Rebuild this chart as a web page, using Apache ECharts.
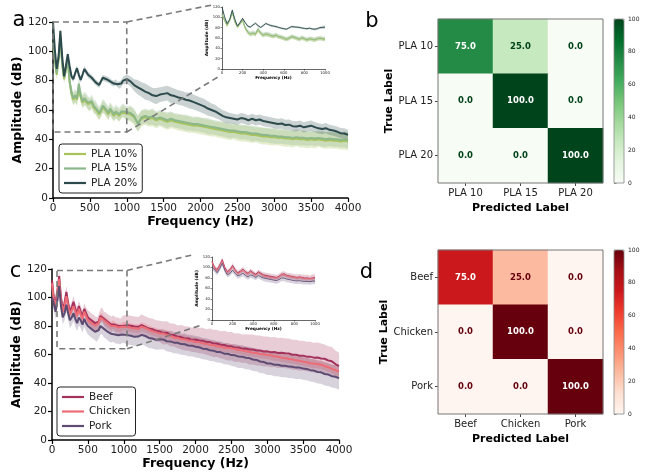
<!DOCTYPE html>
<html>
<head>
<meta charset="utf-8">
<script src="https://cdn.jsdelivr.net/npm/echarts@6/dist/echarts.min.js"></script>
<style>
html,body{margin:0;padding:0;background:#fff}
#main{width:647px;height:472px}
</style>
</head>
<body>
<div id="main"></div>
<script>
// frequency points (Hz): 25 Hz steps up to 1000, then 50 Hz steps
var freqs = [0,25,50,75,100,125,150,175,200,225,250,275,300,325,350,375,400,425,450,475,
  500,525,550,575,600,625,650,675,700,725,750,775,800,825,850,875,900,925,950,975,1000,
  1050,1100,1150,1200,1250,1300,1350,1400,1450,1500,1550,1600,1650,1700,1750,1800,1850,1900,1950,
  2000,2050,2100,2150,2200,2250,2300,2350,2400,2450,2500,2550,2600,2650,2700,2750,2800,2850,2900,2950,
  3000,3050,3100,3150,3200,3250,3300,3350,3400,3450,3500,3550,3600,3650,3700,3750,3800,3850,3900,3950,4000];
var nInset = 41; // points up to 1000 Hz

// panel a - PLA
var pla10 = [105,94,84,94,109,91,81,87,94,79,71,67,69,67,74,69,65,67,66,64,
  63,65,62,61,59,57,59,62,61,59,57,60,58,56,58,57,56,58,59,58,57,
  57,55,51,54,55,54,54.5,53,54,53,52,53,52,51.5,51,50.5,50,49.5,49.5,49,
  48.5,48,47.5,47,46.5,46,45.5,45,45,44.5,44,44,43.5,43,43,42.5,42,42,41.5,41.5,
  41,41,40.5,40.5,40,40.5,40,40,39.5,40,39.5,40,39.5,39,39.5,39,39,38.5,39,38.5];
var pla15 = [106,95,85,95,110,92,82,88,95,80,72,68,70,68,78,70,66,68,67,65,
  64,66,63,62,60,58,60,63,62,60,58,61,59,57,59,58,57,59,60,59,58,
  58,56,50.5,55,56,55,55.5,54,55,54,53,54,53,52.5,52,51.5,51,50.5,50.5,50,
  49.5,49,48.5,48,47.5,47,46.5,46,46,45.5,45,45,44.5,44,44,43.5,43,43,42.5,42.5,
  42,42,41.5,41.5,41,41.5,41,41,40.5,41,40.5,41,40.5,40,40.5,40,40,39.5,40,39.5];
var pla20 = [120,101,88,96,114,96,83,90,98,90,83,81,85,88.5,84,80.5,84,88,86,84,
  83,82,80.5,79,78,77,79.5,82,81.5,81,80.5,79.5,78.5,78,79,77.5,77,78,80,80.5,81,
  79.5,77,75.5,74,72.5,71.5,70,69.5,70.5,71,71.5,70,69.5,68.5,68,67,66.5,65.5,64.5,
  63.5,62.5,61,60,59,57.5,56,55,54.5,54,53.5,54.5,54,53,54,53,53.5,52.5,52,51.5,
  51,50.5,50.8,49.8,50,49,48.8,49.3,48.2,48.8,49.3,48.3,47.5,47,47.6,46.5,46,45.3,44.2,44,43];
var pla10Sd = [3,3,3,3,3,3,3,3,3,4, 4,4,4,4,4,4,4,4,4,4, 4,4,4,4,4,4,4,4,4,4, 4,4,4,4,4,4,4,4,4,4, 4,
  5,5,5.5,5.5,5,5.5,5.5,5.5,5,5.5, 5.5,5.5,5,5.5,5.5,5.5,5.5,5,5.5,5.5, 5.5,5.5,5.5,5,5.5,5.5,5.5,5.5,5,5.5,
  5.5,5.5,5.5,5.5,5,5.5,5.5,5.5,5.5,5.5, 5,5.5,5.5,5.5,5.5,5,5.5,5.5,5.5,5.5, 5.5,5,5.5,5.5,5.5,5.5,5.5,5.5,6,6];
var pla15Sd = [3,3,3,3,3,3,3,3,3,4, 4.5,4.5,4.5,4.5,4.5,4.5,4.5,4.5,4.5,4.5, 4.5,4.5,4.5,4.5,4.5,4.5,4.5,4.5,4.5,4.5, 4.5,4.5,4.5,4.5,4.5,4.5,4.5,4.5,4.5,4.5, 4.5,
  5,5,5.5,5,5,5,5.5,5,5,5, 5.5,5,5,5,5,5.5,5,5,5,5, 5,5.5,5,5,5,5,5,5.5,5,5,
  5,5,5,5.5,5,5,5,5,5,5.5, 5,5,5,5,5,5.5,5,5,5,5, 5,5,5.5,5,5,5,5,5,5.5,5.5];
var pla20Sd = [2,2,2,2,2,2,2,2,2,2, 2,2,2,2,2,2,2,2,2,2, 2,2,2,2,2,2,2,2,2,2, 2,2,2,2,2,2,2.5,2.5,2.5,3, 3,
  3.5,4,5,5,5.5,5,5,5.5,5,5, 5,5.5,5,5,5,5,5.5,5,5,5, 5,5,4.5,4.5,4,4,4,3.5,3.5,3.5,
  3.5,3.5,3.5,3.5,3.5,3.5,3.5,3.5,3.5,3.5, 3.5,3.5,3.5,3.5,3.5,3.5,3.5,3.5,3.5,3.5, 3.5,3.5,3.5,3.5,3.5,3.5,3.5,3.5,3.5,3.5];

// panel c - meat
var beef = [112,100,96,105,115,100,92,96,104,96,90,93,97,92,89,94,90,87,92,89,
  86,85,84,83,82,81,83,87,88,85,84,83,82,81,82,81,80,80,79,80,81,
  80.5,80.2,79.6,79.4,80.6,79.4,78.2,77.8,76.6,76.2,75.1,75.3,73.8,73.7,72.4,72.2,71.3,71.2,70.2,70.5,
  69.8,69.7,68.8,68.7,67.8,67.7,66.8,66.7,65.8,65.8,64.8,65,64.1,64.2,63.5,63.5,62.8,62.8,62.1,62.2,
  61.6,61.7,61.1,61.2,60.8,60.7,59.8,59.8,59.1,59.2,58.5,58.5,57.8,57.9,57.2,57,55.8,55.2,53.3,51.8];
var chicken = [110,98,94,103,113,98,90,94,101,94,88,91,94,90,87,92,88,85,90,87,
  84,83,82,81,80.5,80,82,86,86,84,83,82,81,80,81,80,79,79,78.5,79.5,80,
  79.5,78.8,78.4,78,79.5,78.6,77.4,76.3,75.7,74.8,74.7,73.8,73.2,71.8,71.7,70.8,70.6,69.8,69.6,68.8,
  68.7,67.8,67.6,66.8,66.7,65.8,65.6,64.8,64.7,64.3,63.9,63.2,62.9,62.2,61.9,61.2,61,60.4,60.1,59.7,
  59.4,58.7,58.4,57.7,57.6,56.9,56.6,55.9,55.6,54.9,54.6,53.9,53.6,53.4,52.8,51.9,51.1,49.9,49.1,48];
var pork = [100,96,90,98,108,94,86,89,95,89,84,86,89,85,82,86,84,81,85,82,
  80,79,78,77,76,75,77,80,80,78,77,76,75,74.5,75,74,73.5,73.5,73,74,74,
  73.6,73.2,72.4,72.6,73.8,73,71.6,71.2,70.3,70.5,70.6,69.3,69.2,68.3,68.2,67.3,67.2,66.3,66.2,65.4,
  65.1,64.1,63.9,63,62.7,61.8,61.7,60.6,60.5,59.6,59.4,58.6,58.5,57.7,57.5,56.5,56.2,55.1,54.8,53.7,
  53.6,52.8,52.8,52.1,52.1,51.5,51.4,50.8,50.8,50.2,49.9,49,48.7,47.7,47.5,46.3,45.9,44.8,44.4,43.4];
var beefSd = [4,4,4,4,4,4,4,4,4,4, 4,4,4,4,4,4,4,4,4,4, 5,5,5,5,5,5,5,5,5,5, 5.5,5.5,5.5,5.5,5.5,5.5,6,6,6,6.5, 6.5,
  7,7,7,7,7.5,7.5,7.5,7.5,7.5,7.5, 8,8,8,8,8,8.5,8.5,8.5,8.5,9, 9,9,9,9.5,9.5,9.5,9.5,10,10,10,
  10,10,10,10,10.5,10.5,10.5,10.5,10.5,10.5, 10.5,10.5,10.5,10.5,10.5,10.5,10.5,10.5,10.5,10.5, 10.5,10.5,10.5,10.5,10.5,10,10,10,9.5,9.5];
var chickenSd = [3,3,3,3,3,3,3,3,3,3, 3,3,3,3,3,3,3,3,3,3, 3,3,3,3,3,3,3,3,3,3, 3,3,3,3,3,3,3,3,3,3, 3,
  3,3,3,3,3,3,3,3,3,3, 3,3,3,3,3,3,3,3,3,3, 3,3,3,3,3,3,3,3,3,3,
  3,3,3,3,3,3,3,3,3,3, 3,3,3,3,3,3,3,3,3,3, 3,3,3,3,3,3,3,3,3.5,3.5];
var porkSd = [5,5,5,5,5,5,5,5,5,5, 5.5,5.5,5.5,5.5,5.5,5.5,5.5,5.5,5.5,5.5, 6,6,6,6,6,6,6,6,6,6, 6,6,6,6,6,6,6,6,6,6, 6,
  6.5,6.5,6.5,6.5,6.5,7,7,7,7,7, 7,7,7.5,7.5,7.5,7.5,7.5,7.5,7.5,7.5, 7.5,7.5,7.5,7.5,7.5,7.5,7.5,7.5,7.5,7.5,
  8,8,8,8,8,8,8,8,8,8, 8,8,8,8,8,8,8,8,8,8, 8,8,8,8,8,8,8,8,8,8];

// confusion matrices
var plaLabels = ['PLA 10','PLA 15','PLA 20'];
var confPla = [[75,25,0],[0,100,0],[0,0,100]];
var meatLabels = ['Beef','Chicken','Pork'];
var confMeat = [[75,25,0],[0,100,0],[0,0,100]];
var colorbarTicks = [0,20,40,60,80,100];

// zoomed regions shown in insets
var zoomA = {x:[0,1000], y:[45,120]};
var zoomC = {x:[70,1045], y:[64,119]};

var FONT = 'DejaVu Sans';
var greens = ['#f7fcf5','#e5f5e0','#c7e9c0','#a1d99b','#74c476','#41ab5d','#238b45','#006d2c','#00441b'];
var reds = ['#fff5f0','#fee0d2','#fcbba1','#fc9272','#fb6a4a','#ef3b2c','#cb181d','#a50f15','#67000d'];

var chart = echarts.init(document.getElementById('main'));
var series = [];

function addSpectrum(name, color, ys, sd, gi, n, lw, op){
  var band = [], mid = [];
  for (var i = 0; i < n; i++) {
    band.push([freqs[i], ys[i] - sd[i], ys[i] + sd[i]]);
    mid.push([freqs[i], ys[i]]);
  }
  // shaded +-sd region drawn as one polygon
  series.push({type:'custom', xAxisIndex:gi, yAxisIndex:gi, data:band, silent:true, z:1, clip:true,
    encode:{x:0, y:[1,2]},
    renderItem:function(params, api){
      if (params.dataIndex !== 0) return null;
      var pts = [], k;
      for (k = 0; k < band.length; k++) pts.push(api.coord([band[k][0], band[k][2]]));
      for (k = band.length - 1; k >= 0; k--) pts.push(api.coord([band[k][0], band[k][1]]));
      return {type:'polygon', shape:{points:pts}, style:{fill:color, opacity:op}};
    }});
  series.push({type:'line', name:name, xAxisIndex:gi, yAxisIndex:gi, data:mid, symbol:'none',
    lineStyle:{color:color, width:lw}, itemStyle:{color:color}, z:2, emphasis:{disabled:true}});
}

var N = freqs.length;
// main + inset of panel a
[[0, N, 2, 1.2],[1, nInset, 0.9, 0.6]].forEach(function(g){
  addSpectrum('PLA 10%', '#a8c35c', pla10, pla10Sd, g[0], g[1], g[2], 0.3);
  addSpectrum('PLA 15%', '#8cb78b', pla15, pla15Sd, g[0], g[1], g[2], 0.3);
  addSpectrum('PLA 20%', '#2d4a4c', pla20, pla20Sd, g[0], g[1], g[2], 0.25);
});
// main + inset of panel c
[[4, N, 2, 1.2],[5, nInset, 0.9, 0.6]].forEach(function(g){
  addSpectrum('Beef', '#a3335c', beef, beefSd, g[0], g[1], g[2], 0.25);
  addSpectrum('Chicken', '#ee6c75', chicken, chickenSd, g[0], g[1], g[2], 0.3);
  addSpectrum('Pork', '#5e4b72', pork, porkSd, g[0], g[1], g[2], 0.25);
});

function heatData(m, dark){
  var d = [];
  for (var r = 0; r < m.length; r++)
    for (var c = 0; c < m[r].length; c++)
      d.push({value:[c, r, m[r][c]], label:{color: m[r][c] > 50 ? '#fff' : dark}});
  return d;
}
var heatLabel = {show:true, fontFamily:FONT, fontWeight:'bold', fontSize:8.5,
  formatter:function(p){ return p.value[2].toFixed(1); }};
var idxB = series.length;
series.push({type:'heatmap', xAxisIndex:2, yAxisIndex:2, data:heatData(confPla, '#00441b'),
  label:heatLabel, emphasis:{disabled:true}});
var idxD = series.length;
series.push({type:'heatmap', xAxisIndex:6, yAxisIndex:6, data:heatData(confMeat, '#67000d'),
  label:heatLabel, emphasis:{disabled:true}});

var plain = function(v){ return String(v); };

function specX(gi, max, interval, big){
  return {type:'value', gridIndex:gi, min:0, max:max, interval:interval,
    name:'Frequency (Hz)', nameLocation:'middle', nameGap: big ? 16 : 6,
    nameTextStyle:{fontFamily:FONT, fontWeight:'bold', fontSize: big ? 12.5 : 4.3, color:'#000'},
    axisLine:{show:true, onZero:false, lineStyle:{color:'#000', width: big ? 1.5 : 0.6}},
    axisTick:{show:true, length: big ? 4 : 1.5, lineStyle:{color:'#000', width: big ? 1.2 : 0.5}},
    axisLabel:{fontFamily:FONT, fontSize: big ? 10.5 : 3.8, color:'#222', margin: big ? 5 : 2, formatter:plain},
    splitLine:{show:false}};
}
function specY(gi, big, gap){
  return {type:'value', gridIndex:gi, min:0, max:120, interval:20,
    name:'Amplitude (dB)', nameLocation:'middle', nameGap: gap,
    nameTextStyle:{fontFamily:FONT, fontWeight:'bold', fontSize: big ? 12.5 : 4.3, color:'#000'},
    axisLine:{show:true, onZero:false, lineStyle:{color:'#000', width: big ? 1.5 : 0.6}},
    axisTick:{show:true, length: big ? 4 : 1.5, lineStyle:{color:'#000', width: big ? 1.2 : 0.5}},
    axisLabel:{fontFamily:FONT, fontSize: big ? 10.5 : 3.8, color:'#222', margin: big ? 5 : 2, formatter:plain},
    splitLine:{show:false}};
}
function heatX(gi, cats){
  return {type:'category', gridIndex:gi, data:cats, name:'Predicted Label', nameLocation:'middle', nameGap:20,
    nameTextStyle:{fontFamily:FONT, fontWeight:'bold', fontSize:11, color:'#000'},
    axisLine:{show:false}, axisTick:{show:true, alignWithLabel:true, length:3, lineStyle:{color:'#444'}},
    axisLabel:{fontFamily:FONT, fontSize:10, color:'#222', margin:5}, splitLine:{show:false}};
}
function heatY(gi, cats){
  return {type:'category', gridIndex:gi, data:cats, inverse:true, name:'True Label', nameLocation:'middle', nameGap:42,
    nameTextStyle:{fontFamily:FONT, fontWeight:'bold', fontSize:11, color:'#000'},
    axisLine:{show:false}, axisTick:{show:true, alignWithLabel:true, length:3, lineStyle:{color:'#444'}},
    axisLabel:{fontFamily:FONT, fontSize:10, color:'#222', margin:5}, splitLine:{show:false}};
}
function barX(gi){ return {type:'value', gridIndex:gi, show:false, min:0, max:1}; }
function barY(gi){
  return {type:'value', gridIndex:gi, position:'right', min:colorbarTicks[0], max:colorbarTicks[colorbarTicks.length-1], interval:20,
    axisLine:{show:false}, axisTick:{show:true, length:2.5, lineStyle:{color:'#444', width:0.6}},
    axisLabel:{fontFamily:FONT, fontSize:6, color:'#222', margin:4}, splitLine:{show:false}};
}

var legendBase = {orient:'vertical', icon:'rect', itemWidth:22, itemHeight:2.2, itemGap:2.5, padding:[4,5,4,5],
  borderColor:'#222', borderWidth:1, borderRadius:3, backgroundColor:'#fff', selectedMode:false,
  textStyle:{fontFamily:FONT, fontSize:10.5, color:'#222', lineHeight:12}};

var letter = function(t, x, y){
  return {type:'text', z:50, style:{text:t, x:x, y:y, fill:'#000', font:'21px "DejaVu Sans"', textAlign:'center', textVerticalAlign:'middle'}};
};
var border = function(x, y, w, h, c, lw){
  return {type:'rect', z:50, silent:true, shape:{x:x, y:y, width:w, height:h}, style:{fill:null, stroke:c, lineWidth:lw}};
};

var option = {
  animation:false,
  backgroundColor:'#fff',
  textStyle:{fontFamily:FONT},
  grid:[
    {left:53, top:22, width:295, height:176},
    {left:222, top:7, width:103, height:62},
    {left:438, top:19, width:165, height:164},
    {left:614, top:19, width:10, height:164},
    {left:52, top:269, width:287, height:171},
    {left:212, top:257, width:103, height:63},
    {left:438, top:250, width:165, height:164},
    {left:614, top:250, width:10, height:164}
  ],
  xAxis:[specX(0, 4000, 500, true), specX(1, 1000, 200, false), heatX(2, plaLabels), barX(3),
         specX(4, 4000, 500, true), specX(5, 1000, 200, false), heatX(6, meatLabels), barX(7)],
  yAxis:[specY(0, true, 23), specY(1, false, 8), heatY(2, plaLabels), barY(3),
         specY(4, true, 22), specY(5, false, 8), heatY(6, meatLabels), barY(7)],
  visualMap:[
    {type:'continuous', seriesIndex:idxB, min:0, max:100, calculable:false, inRange:{color:greens},
     orient:'vertical', left:614, top:19, itemWidth:10, itemHeight:164, padding:0},
    {type:'continuous', seriesIndex:idxD, min:0, max:100, calculable:false, inRange:{color:reds},
     orient:'vertical', left:614, top:250, itemWidth:10, itemHeight:164, padding:0}
  ],
  legend:[
    Object.assign({}, legendBase, {data:['PLA 10%','PLA 15%','PLA 20%'], left:59, top:144}),
    Object.assign({}, legendBase, {data:['Beef','Chicken','Pork'], left:57, top:387})
  ],
  series:series,
  graphic:[
    letter('a', 19, 21), letter('b', 372, 22), letter('c', 15.5, 271.5), letter('d', 366.5, 273),
    border(438, 19, 165, 164, '#777', 1), border(614, 19, 10, 164, '#888', 0.8),
    border(438, 250, 165, 164, '#777', 1), border(614, 250, 10, 164, '#888', 0.8)
  ]
};
chart.setOption(option);

// dashed zoom boxes and connector lines to the insets
function dashedParts(id, gi, box, topEnd, botEnd){
  var p1 = chart.convertToPixel({gridIndex:gi}, [box.x[0], box.y[1]]);
  var p2 = chart.convertToPixel({gridIndex:gi}, [box.x[1], box.y[0]]);
  var st = {fill:null, stroke:'#7a7a7a', lineWidth:1.6, lineDash:[6,4]};
  return [
    {type:'rect', id:id+'r', z:30, silent:true, shape:{x:p1[0], y:p1[1], width:p2[0]-p1[0], height:p2[1]-p1[1]}, style:st},
    {type:'line', id:id+'t', z:30, silent:true, shape:{x1:p2[0], y1:p1[1], x2:topEnd[0], y2:topEnd[1]}, style:st},
    {type:'line', id:id+'b', z:30, silent:true, shape:{x1:p2[0], y1:p2[1], x2:botEnd[0], y2:botEnd[1]}, style:st}
  ];
}
chart.setOption({graphic: dashedParts('za', 0, zoomA, [212, 5], [218, 77])
  .concat(dashedParts('zc', 4, zoomC, [192, 255], [202, 325]))});
</script>
</body>
</html>
